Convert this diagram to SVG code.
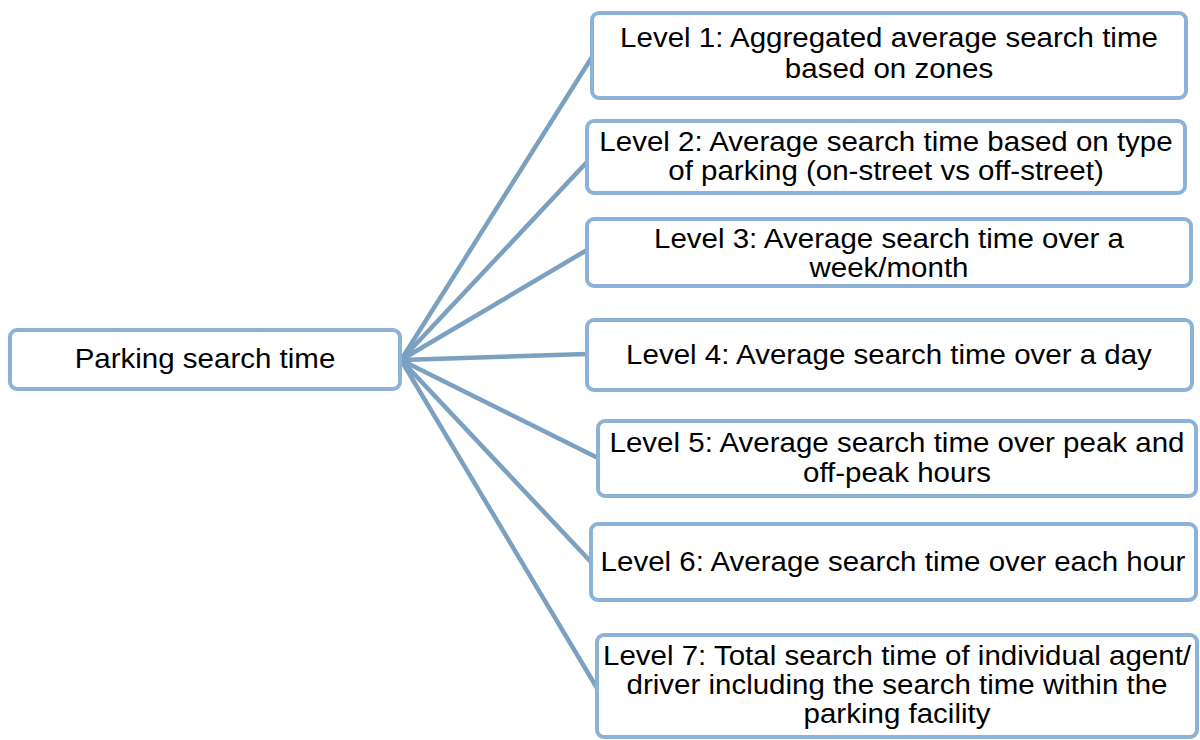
<svg xmlns="http://www.w3.org/2000/svg" width="1200" height="740" viewBox="0 0 1200 740">
<style>
.box{fill:#ffffff;stroke:#8cb3d7;stroke-width:4}
.lbl{font-family:"Liberation Sans",Arial,sans-serif;font-size:28.5px;fill:#000000;text-anchor:middle}
.edge{stroke:#7ba0c0;stroke-width:4.5;fill:none;stroke-linecap:round}
</style>
<rect width="1200" height="740" fill="#ffffff"/>
<g id="connectors">
<line class="edge" x1="401" y1="360" x2="592" y2="57"/>
<line class="edge" x1="401" y1="360" x2="587" y2="162"/>
<line class="edge" x1="401" y1="360" x2="587" y2="250"/>
<line class="edge" x1="401" y1="360" x2="587" y2="354"/>
<line class="edge" x1="401" y1="360" x2="598" y2="458"/>
<line class="edge" x1="401" y1="360" x2="591" y2="562"/>
<line class="edge" x1="401" y1="360" x2="597" y2="688"/>
</g>
<g id="root">
<rect class="box" x="10" y="330" width="390" height="59" rx="7"/>
<text class="lbl" transform="translate(205 368) scale(1.035 1)">Parking search time</text>
</g>
<g id="level1">
<rect class="box" x="592" y="13" width="594" height="85" rx="7"/>
<text class="lbl" transform="translate(889 47) scale(1.035 1)">Level 1: Aggregated average search time</text>
<text class="lbl" transform="translate(889 78) scale(1.035 1)">based on zones</text>
</g>
<g id="level2">
<rect class="box" x="587" y="121" width="598" height="72" rx="7"/>
<text class="lbl" transform="translate(886 151) scale(1.035 1)">Level 2: Average search time based on type</text>
<text class="lbl" transform="translate(886 180) scale(1.035 1)">of parking (on-street vs off-street)</text>
</g>
<g id="level3">
<rect class="box" x="587" y="219" width="604" height="67" rx="7"/>
<text class="lbl" transform="translate(889 248) scale(1.035 1)">Level 3: Average search time over a</text>
<text class="lbl" transform="translate(889 277) scale(1.035 1)">week/month</text>
</g>
<g id="level4">
<rect class="box" x="587" y="320" width="605" height="70" rx="7"/>
<text class="lbl" transform="translate(889 364) scale(1.035 1)">Level 4: Average search time over a day</text>
</g>
<g id="level5">
<rect class="box" x="598" y="421" width="598" height="75" rx="7"/>
<text class="lbl" transform="translate(897 452) scale(1.035 1)">Level 5: Average search time over peak and</text>
<text class="lbl" transform="translate(897 482) scale(1.035 1)">off-peak hours</text>
</g>
<g id="level6">
<rect class="box" x="591" y="524" width="605" height="76" rx="7"/>
<text class="lbl" transform="translate(893 571) scale(1.035 1)">Level 6: Average search time over each hour</text>
</g>
<g id="level7">
<rect class="box" x="597" y="635" width="600" height="102" rx="7"/>
<text class="lbl" transform="translate(897 665) scale(1.035 1)">Level 7: Total search time of individual agent/</text>
<text class="lbl" transform="translate(897 694) scale(1.035 1)">driver including the search time within the</text>
<text class="lbl" transform="translate(897 723) scale(1.035 1)">parking facility</text>
</g>
</svg>
